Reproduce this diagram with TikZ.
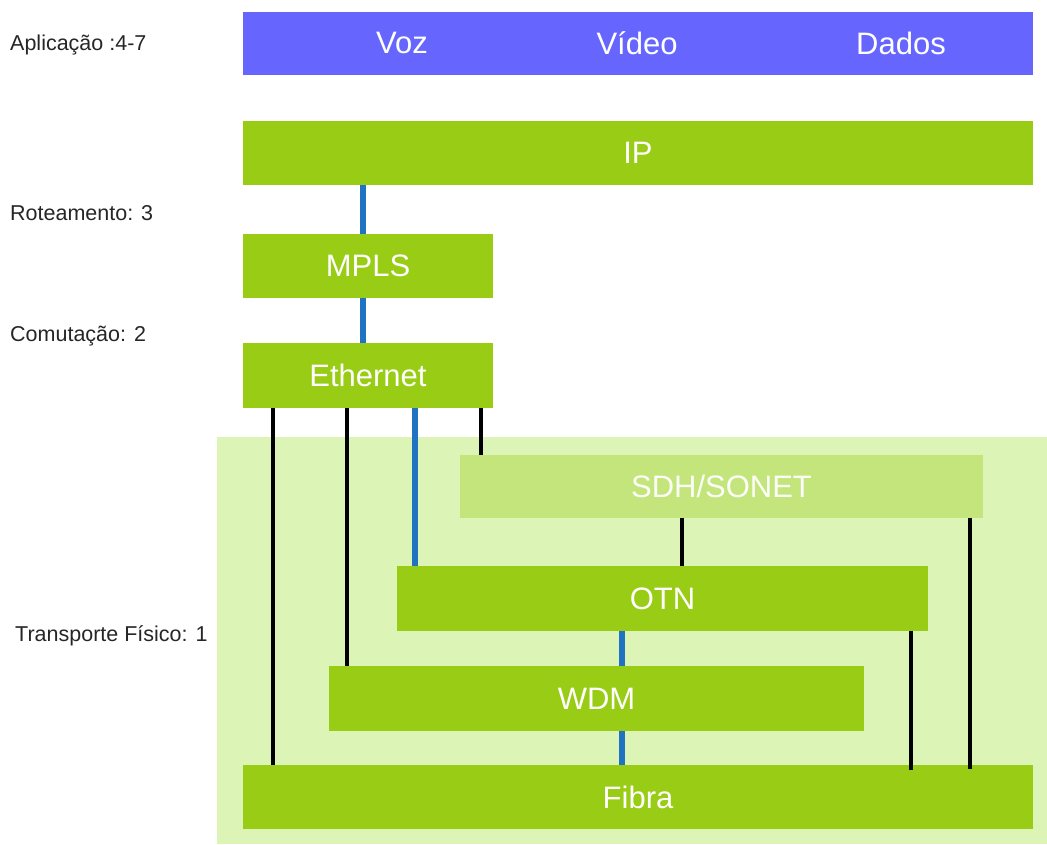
\documentclass[tikz,border=0pt]{standalone}
\usepackage{fontspec}
\setmainfont{Liberation Sans}
\definecolor{appblue}{HTML}{6666FF}
\definecolor{lgreen}{HTML}{99CC15}
\definecolor{bggreen}{HTML}{DCF5B6}
\definecolor{sdhgreen}{HTML}{C3E57B}
\definecolor{linkblue}{HTML}{1F73C1}
\begin{document}
\begin{tikzpicture}[x=1pt,y=-1pt,
  layer/.style={fill=lgreen,draw=none,inner sep=0pt,text=white,
    font=\fontsize{31}{36}\selectfont},
  apptext/.style={text=white,inner sep=0pt,font=\fontsize{31}{36}\selectfont},
  sidelabel/.style={anchor=west,inner sep=0pt,text=black!85,font=\fontsize{21.5}{25}\selectfont},
  blk/.style={line width=4.5pt,black},
  blu/.style={line width=5.5pt,linkblue}]
\useasboundingbox[fill=white] (0,0) rectangle (1047,844);
% background of physical transport
\fill[bggreen] (217,437) rectangle (1047,844);
% application bar
\node[fill=appblue,inner sep=0pt,minimum width=790pt,minimum height=63pt] (app) at (638,43.5) {};
\node[apptext] (voz) at (402,43) {Voz};
\node[apptext] (video) at (637,43) {Vídeo};
\node[apptext] (dados) at (901,43) {Dados};
% layers
\node[layer,minimum width=790pt,minimum height=64pt] (ip) at (638,153) {IP};
\node[layer,minimum width=250pt,minimum height=64pt] (mpls) at (368,266) {MPLS};
\node[layer,minimum width=250pt,minimum height=65pt] (eth) at (368,375.5) {Ethernet};
\node[layer,fill=sdhgreen,text=white!95!sdhgreen,minimum width=523pt,minimum height=63pt] (sdh) at (721.5,486.5) {SDH/SONET};
\node[layer,minimum width=531pt,minimum height=65pt] (otn) at (662.5,598.5) {OTN};
\node[layer,minimum width=535pt,minimum height=65pt] (wdm) at (596.5,698.5) {WDM};
\node[layer,minimum width=790pt,minimum height=64pt] (fibra) at (638,797) {Fibra};
% side labels
\node[sidelabel] (l1) at (10,45) {Aplicação :4-7};
\node[sidelabel] (l2) at (10,213) {Roteamento: 3};
\node[sidelabel] (l3) at (10,336) {Comutação: 2};
\node[sidelabel] (l4) at (15,636) {Transporte Físico: 1};
% connectors
\draw[blu] (ip.south -| 363,0) -- (mpls.north -| 363,0);
\draw[blu] (mpls.south -| 363,0) -- (eth.north -| 363,0);
\draw[blk] (eth.south -| 273,0) -- (fibra.north -| 273,0);
\draw[blk] (eth.south -| 347,0) -- (wdm.north -| 347,0);
\draw[blu] (eth.south -| 415,0) -- (otn.north -| 415,0);
\draw[blk] (eth.south -| 481,0) -- (sdh.north -| 481,0);
\draw[blk] (sdh.south -| 682,0) -- (otn.north -| 682,0);
\draw[blk] (sdh.south -| 970,0) -- ([yshift=-4pt]fibra.north -| 970,0);
\draw[blk] (otn.south -| 911,0) -- ([yshift=-5pt]fibra.north -| 911,0);
\draw[blu] (otn.south -| 622,0) -- (wdm.north -| 622,0);
\draw[blu] (wdm.south -| 622,0) -- (fibra.north -| 622,0);
\end{tikzpicture}
\end{document}
